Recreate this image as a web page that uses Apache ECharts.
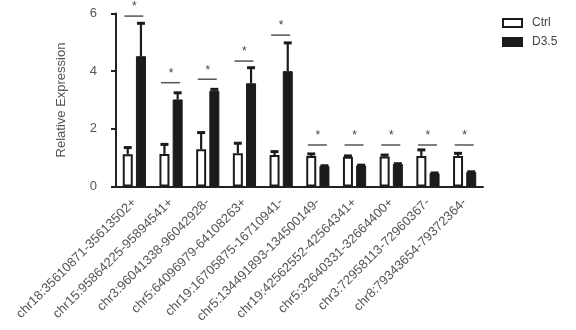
<!DOCTYPE html>
<html>
<head>
<meta charset="utf-8">
<script src="https://cdn.jsdelivr.net/npm/echarts@6/dist/echarts.min.js"></script>
<style>html,body{margin:0;padding:0;background:#fff}#c{width:576px;height:330px}</style>
</head>
<body>
<div id="c"></div>
<script>
const categories = ["chr18:35610871-35613502+","chr15:95864225-95894541+","chr3:96041338-96042928-","chr5:64096979-64108263+","chr19:16705875-16710941-","chr5:134491893-134500149-","chr19:42562552-42564341+","chr5:32640331-32664400+","chr3:72958113-72960367-","chr8:79343654-79372364-"];
const ctrlMean = [1.12, 1.13, 1.29, 1.15, 1.09, 1.06, 1.03, 1.04, 1.06, 1.06];
const ctrlErr  = [0.23, 0.33, 0.58, 0.35, 0.12, 0.07, 0.03, 0.05, 0.21, 0.09];
const d35Mean  = [4.52, 3.02, 3.32, 3.58, 4.00, 0.71, 0.73, 0.78, 0.46, 0.50];
const d35Err   = [1.14, 0.23, 0.05, 0.54, 0.98, 0.01, 0.01, 0.01, 0.01, 0.01];
const sigY     = [5.91, 3.60, 3.72, 4.35, 5.25, 1.44, 1.44, 1.44, 1.44, 1.44];
const yTicks   = [0, 2, 4, 6];

const FONT = "'Liberation Sans', Arial, sans-serif";
const TXT = '#555';
const DARK = '#1b1b1b';
const OFF = 6.6;

const chart = echarts.init(document.getElementById('c'));

function errItem(means, errs, dir) {
  return function (params, api) {
    const i = api.value(0);
    const base = api.coord([i, means[i]]);
    const top = api.coord([i, means[i] + errs[i]]);
    const x = base[0] + dir * OFF;
    return {
      type: 'group',
      children: [
        {type: 'line', shape: {x1: x, y1: base[1], x2: x, y2: top[1]}, style: {stroke: DARK, lineWidth: 2.2}},
        {type: 'line', shape: {x1: x - 4, y1: top[1], x2: x + 4, y2: top[1]}, style: {stroke: DARK, lineWidth: 3}}
      ]
    };
  };
}

chart.setOption({
  animation: false,
  grid: {left: 116, right: 93, top: 13.5, bottom: 143.5, containLabel: false},
  legend: {
    orient: 'vertical', left: 502, top: 17, padding: 0, itemWidth: 19, itemHeight: 8, itemGap: 7,
    textStyle: {fontFamily: FONT, fontSize: 12, color: '#444', padding: [0,0,0,5]},
    data: [{name: 'Ctrl', icon: 'rect'}, {name: 'D3.5', icon: 'rect'}]
  },
  xAxis: {
    type: 'category', data: categories,
    axisLine: {lineStyle: {color: '#222', width: 2}},
    axisTick: {alignWithLabel: true, length: 5, lineStyle: {color: '#222', width: 2}},
    axisLabel: {rotate: 45, interval: 0, margin: 14, fontFamily: FONT, fontSize: 13, color: TXT}
  },
  yAxis: {
    type: 'value', min: yTicks[0], max: yTicks[yTicks.length - 1], interval: 2,
    name: 'Relative Expression', nameLocation: 'middle', nameGap: 48,
    nameTextStyle: {fontFamily: FONT, fontSize: 13, color: TXT},
    splitLine: {show: false},
    axisLine: {show: true, lineStyle: {color: '#222', width: 2}},
    axisTick: {show: true, length: 5, lineStyle: {color: '#222', width: 2}},
    axisLabel: {margin: 19, fontFamily: FONT, fontSize: 13, color: TXT}
  },
  series: [
    {name: 'Ctrl', type: 'bar', data: ctrlMean, barWidth: 10, barGap: '32%',
     itemStyle: {color: '#fff', borderColor: DARK, borderWidth: 2}},
    {name: 'D3.5', type: 'bar', data: d35Mean, barWidth: 10,
     itemStyle: {color: DARK, borderColor: DARK, borderWidth: 1}},
    {type: 'custom', z: 5, data: categories.map((c, i) => [i]), renderItem: errItem(ctrlMean, ctrlErr, -1), silent: true},
    {type: 'custom', z: 5, data: categories.map((c, i) => [i]), renderItem: errItem(d35Mean, d35Err, 1), silent: true},
    {type: 'custom', z: 5, silent: true, data: categories.map((c, i) => [i, sigY[i]]),
     renderItem: function (params, api) {
       const p = api.coord([api.value(0), api.value(1)]);
       return {type: 'group', children: [
         {type: 'line', shape: {x1: p[0] - 10, y1: p[1], x2: p[0] + 9, y2: p[1]}, style: {stroke: '#555', lineWidth: 1.5}},
         {type: 'text', style: {text: '*', x: p[0], y: p[1] - 3, align: 'center', verticalAlign: 'bottom', fontFamily: FONT, fontSize: 12, fill: '#444'}}
       ]};
     }}
  ]
});
</script>
</body>
</html>
